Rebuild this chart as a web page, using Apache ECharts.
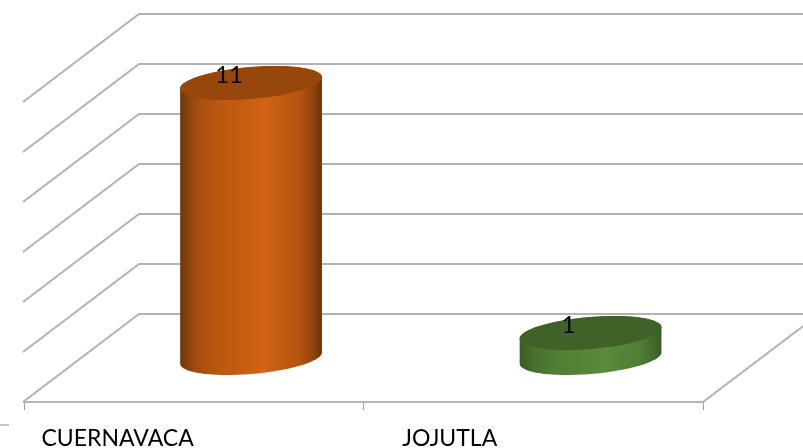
<!DOCTYPE html>
<html><head><meta charset="utf-8">
<style>html,body{margin:0;padding:0;background:#fff;overflow:hidden}#c{width:803px;height:448px;filter:blur(0.45px)}</style>
<script src="https://cdn.jsdelivr.net/npm/echarts@6/dist/echarts.min.js"></script>
</head><body><div id="c"></div>
<script>
const categories = ['CUERNAVACA', 'JOJUTLA'];
const values = [11, 1];
const gridValues = [0, 2, 4, 6, 8, 10, 12];
const bodyColors = [
  ['#6f3508', '#9f4b0e', '#b9560f', '#d16316', '#b4540f', '#8a420b', '#6b3207'],
  ['#3a5c22', '#47702d', '#4f7d33', '#5a8a3c', '#4f7e34', '#436a2a', '#385a21']
];
const topColors = ['#97460c', '#406228'];

const chart = echarts.init(document.getElementById('c'), null, {renderer: 'canvas'});
const DX = 116, DY = -88, TILT = 0.084, RA = 0.2095, RB = 0.047;

function ellipsePt(cx, cy, a, b, t) {
  return [
    cx + a * Math.cos(t) * Math.cos(TILT) + b * Math.sin(t) * Math.sin(TILT),
    cy - a * Math.cos(t) * Math.sin(TILT) + b * Math.sin(t) * Math.cos(TILT)
  ];
}
function arc(cx, cy, a, b, t0, t1) {
  const out = [];
  for (let i = 0; i <= 72; i++) out.push(ellipsePt(cx, cy, a, b, t0 + (t1 - t0) * i / 72));
  return out;
}
const lineStyle = {stroke: '#b2b2b2', lineWidth: 2, fill: null};

chart.setOption({
  animation: false,
  backgroundColor: '#fff',
  grid: {left: 24, top: 102, width: 679, height: 300, containLabel: false, outerBoundsMode: 'none'},
  xAxis: {
    type: 'category',
    data: [
      {value: categories[0], textStyle: {align: 'right', padding: [0, 0, 0, 0]}},
      {value: categories[1], textStyle: {align: 'right', padding: [0, 36, 0, 0]}}
    ],
    boundaryGap: true,
    axisLine: {show: true, lineStyle: {color: '#b6b6b6', width: 2}},
    axisTick: {show: true, length: 8, lineStyle: {color: '#a0a0a0', width: 1}},
    axisLabel: {show: true, interval: 0, margin: 25, color: '#000', fontFamily: 'Lato', fontSize: 23}
  },
  yAxis: {type: 'value', min: 0, max: 12, interval: 2, show: false, splitLine: {show: false}},
  graphic: [{type: 'line', shape: {x1: 0, y1: 425, x2: 9, y2: 425}, style: {stroke: '#8c8c8c', lineWidth: 1}}],
  series: [
    {
      type: 'custom', coordinateSystem: 'cartesian2d', z: 1, silent: true,
      data: gridValues.map(v => [0, v]),
      encode: {x: 0, y: 1},
      renderItem(params, api) {
        const v = api.value(1);
        const y = api.coord([0, v])[1];
        const size = api.size([1, 0])[0];
        const xl = api.coord([0, v])[0] - size / 2;
        const xr = xl + size * 2;
        const children = [{type: 'polyline', shape: {points: [[xl - 1, y], [xl + DX - 1, y + DY], [804 + DX, y + DY]]}, style: lineStyle}];
        if (v === 0) children.push({type: 'line', shape: {x1: xr, y1: y, x2: xr + DX, y2: y + DY}, style: lineStyle});
        return {type: 'group', children};
      }
    },
    {
      type: 'custom', coordinateSystem: 'cartesian2d', z: 3, silent: true,
      data: values.map((v, i) => [i, v]),
      encode: {x: 0, y: 1},
      renderItem(params, api) {
        const i = api.value(0), v = api.value(1);
        const band = api.size([1, 0])[0];
        const a = band * RA, b = band * RB;
        const top = api.coord([i, v]), base = api.coord([i, 0]);
        const tx = top[0] + DX / 2 - 0.7, ty = top[1] + DY / 2;
        const bx = base[0] + DX / 2 - 0.7, by = base[1] + DY / 2;
        const t0 = Math.atan2(b * Math.sin(TILT), a * Math.cos(TILT));
        const bottomArc = arc(bx, by, a, b, t0, t0 + Math.PI);
        const topBack = arc(tx, ty, a, b, t0 + Math.PI, t0 + 2 * Math.PI);
        const c = bodyColors[i];
        return {type: 'group', children: [
          {type: 'polygon', shape: {points: bottomArc.concat(topBack)}, style: {
            fill: new echarts.graphic.LinearGradient(0, 0, 1, 0, [
              {offset: 0, color: c[0]}, {offset: 0.1, color: c[1]}, {offset: 0.25, color: c[2]},
              {offset: 0.6, color: c[3]}, {offset: 0.84, color: c[4]}, {offset: 0.95, color: c[5]}, {offset: 1, color: c[6]}
            ])
          }},
          {type: 'polygon', shape: {points: arc(tx, ty, a, b, 0, 2 * Math.PI)}, style: {fill: topColors[i]}},
          {type: 'text', x: tx - 22, y: ty - 8, style: {
            text: String(v), fontFamily: 'Lato', fontSize: 24, fill: '#000', align: 'center', verticalAlign: 'middle'
          }}
        ]};
      }
    }
  ]
});
</script></body></html>
